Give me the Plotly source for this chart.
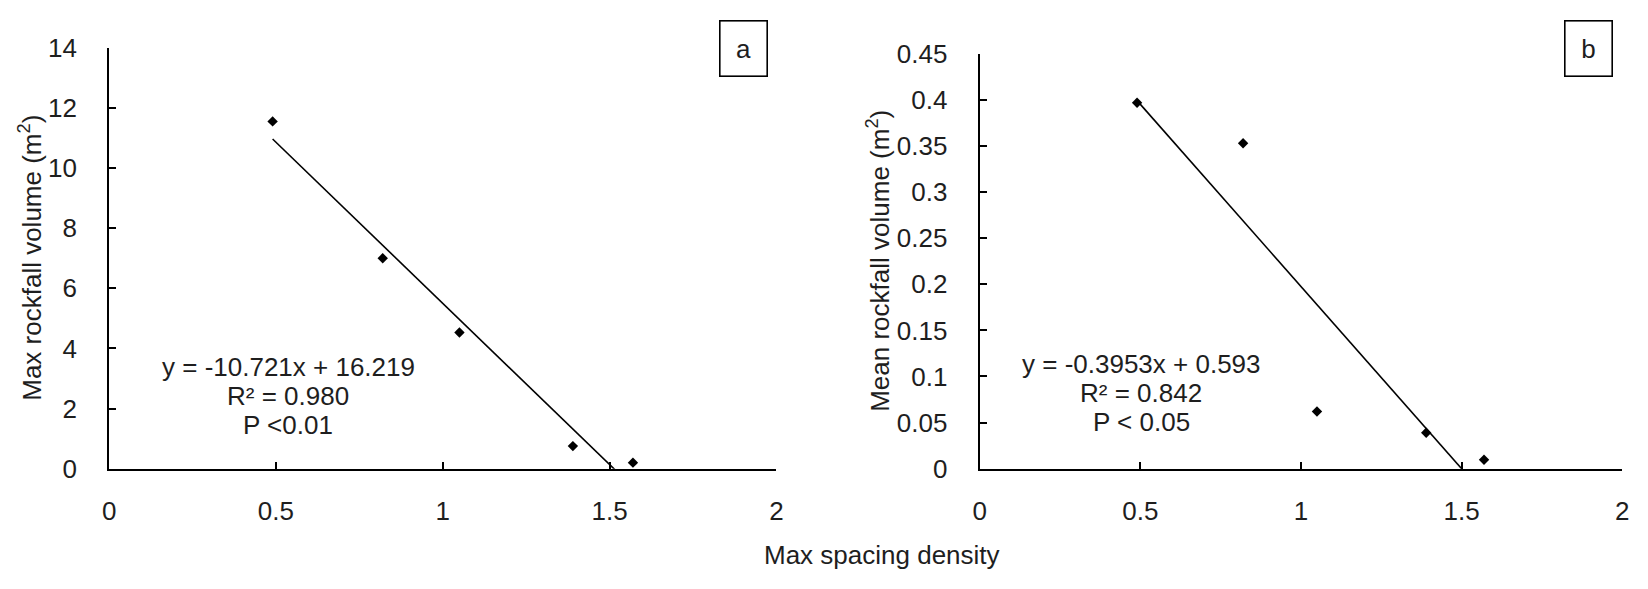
import plotly.graph_objects as go

W, H = 1648, 589

# ---- data ----
spacing = [0.49, 0.82, 1.05, 1.39, 1.57]
max_volume = [11.55, 7.0, 4.53, 0.75, 0.2]
mean_volume = [0.397, 0.353, 0.062, 0.039, 0.0096]
fit_a = {"slope": -10.721, "intercept": 16.219}
fit_b = {"slope": -0.3953, "intercept": 0.593}
eq_a = ["y = -10.721x + 16.219", "R² = 0.980", "P <0.01"]
eq_b = ["y = -0.3953x + 0.593", "R² = 0.842", "P < 0.05"]
x_title = "Max spacing density"
y_title_a = "Max rockfall volume (m<sup>2</sup>)"
y_title_b = "Mean rockfall volume (m<sup>2</sup>)"

FONT = "Arial, 'Liberation Sans', sans-serif"
TXT = "#1e1e1e"
FS = 26


def px(x):
    return x / W


def py(y):
    return 1 - y / H


def fit_line(fit):
    xs = [min(spacing), max(spacing)]
    return xs, [fit["slope"] * x + fit["intercept"] for x in xs]


fig = go.Figure()

# panel a
fig.add_trace(go.Scatter(x=spacing, y=max_volume, mode="markers",
                         marker=dict(symbol="diamond", size=8, color="black"),
                         xaxis="x", yaxis="y", showlegend=False))
lx, ly = fit_line(fit_a)
fig.add_trace(go.Scatter(x=lx, y=ly, mode="lines", line=dict(color="black", width=1.6),
                         xaxis="x", yaxis="y", showlegend=False))
# panel b
fig.add_trace(go.Scatter(x=spacing, y=mean_volume, mode="markers",
                         marker=dict(symbol="diamond", size=8, color="black"),
                         xaxis="x2", yaxis="y2", showlegend=False))
lx, ly = fit_line(fit_b)
fig.add_trace(go.Scatter(x=lx, y=ly, mode="lines", line=dict(color="black", width=1.6),
                         xaxis="x2", yaxis="y2", showlegend=False))

ax_common = dict(showline=True, linecolor="black", linewidth=2, ticks="inside",
                 ticklen=7, tickwidth=1.6, tickcolor="black", showgrid=False,
                 zeroline=False, tickfont=dict(family=FONT, size=FS, color=TXT),
                 fixedrange=True)

fig.update_layout(
    width=W, height=H,
    margin=dict(l=0, r=0, t=0, b=0),
    paper_bgcolor="white", plot_bgcolor="white",
    font=dict(family=FONT, size=FS, color=TXT),
    xaxis=dict(domain=[px(103), px(776)], range=[0, 2], dtick=0.5, anchor="y",
               ticklabelstandoff=18, **ax_common),
    yaxis=dict(domain=[py(478), py(34.5)], range=[0, 14], dtick=2, anchor="x",
               ticklabelstandoff=25, **ax_common),
    xaxis2=dict(domain=[px(981), px(1629)], range=[0, 2], dtick=0.5, anchor="y2",
                ticklabelstandoff=18, **ax_common),
    yaxis2=dict(domain=[py(478), py(41)], range=[0, 0.45], dtick=0.05, anchor="x2",
                ticklabelstandoff=25, **ax_common),
)

ann = []
# axis titles
ann.append(dict(text=y_title_a, x=px(24), y=py(256), textangle=-90))
ann.append(dict(text=y_title_b, x=px(879), y=py(259.5), textangle=-90))
ann.append(dict(text=x_title, x=px(883), y=py(569)))
# equations
for i, t in enumerate(eq_a):
    ann.append(dict(text=t, x=px(283.5), y=py(371 + 30.5 * i)))
for i, t in enumerate(eq_b):
    ann.append(dict(text=t, x=px(1144), y=py(368 + 30.5 * i)))
# panel labels
ann.append(dict(text="a", x=px(743.3), y=py(35.5), bordercolor="black", borderwidth=1.6,
                width=44, height=52, bgcolor="white"))
ann.append(dict(text="b", x=px(1594.7), y=py(35.5), bordercolor="black", borderwidth=1.6,
                width=44, height=52, bgcolor="white"))

for a in ann:
    a.update(xref="paper", yref="paper", showarrow=False, xanchor="center", yanchor="middle",
             font=dict(family=FONT, size=FS, color=TXT))
fig.update_layout(annotations=ann)

fig.write_html("out.html")
